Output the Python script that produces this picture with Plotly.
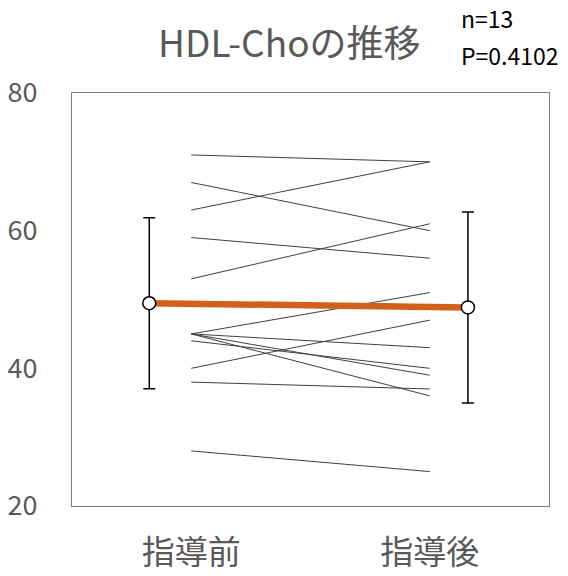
import numpy as np
import plotly.graph_objects as go

# HDL cholesterol per subject, before and after guidance
categories = ["指導前", "指導後"]
before = [71, 67, 63, 59, 53, 45, 45, 45, 45, 44, 40, 38, 28]
after = [70, 60, 70, 56, 61, 51, 43, 39, 36, 40, 47, 37, 25]
y_ticks = [20, 40, 60, 80]
title_text = "HDL-Choの推移"
note_lines = ["n=13", "P=0.4102"]

cat_x = [1, 2]
mean_x = [0.824, 2.16]  # mean markers sit just outside the subject lines

means = [float(np.mean(before)), float(np.mean(after))]
sds = [float(np.std(before, ddof=1)), float(np.std(after, ddof=1))]

FONT = "Noto Sans CJK JP"
GRAY = "#595959"

W, H = 568, 576
ML, MR, MT, MB = 72, 19, 93, 70
plot_w = W - ML - MR
plot_h = H - MT - MB


def px_x(px):
    return (px - ML) / plot_w


def px_y(py):
    return (H - MB - py) / plot_h


fig = go.Figure()

for b, a in zip(before, after):
    fig.add_trace(go.Scatter(
        x=cat_x, y=[b, a], mode="lines",
        line=dict(color="#404040", width=1),
        hoverinfo="skip", showlegend=False,
    ))

fig.add_trace(go.Scatter(
    x=mean_x, y=means, mode="lines",
    line=dict(color="#D2601A", width=6.5),
    showlegend=False,
))

fig.add_trace(go.Scatter(
    x=mean_x, y=means, mode="markers",
    marker=dict(size=13, color="white", line=dict(color="black", width=1.5)),
    error_y=dict(type="data", array=sds, visible=True,
                 color="black", thickness=1.5, width=6),
    showlegend=False,
))

fig.update_layout(
    width=W, height=H,
    margin=dict(l=ML, r=MR, t=MT, b=MB),
    paper_bgcolor="white", plot_bgcolor="white",
    font=dict(family=FONT, color=GRAY),
    xaxis=dict(
        range=[0.5, 2.5], tickmode="array", tickvals=cat_x, ticktext=categories,
        showgrid=False, zeroline=False, ticks="", automargin=False,
        showline=True, linecolor="#7f7f7f", linewidth=1, mirror=True,
        tickfont=dict(size=33, color=GRAY, family=FONT),
        ticklabelstandoff=17,
    ),
    yaxis=dict(
        range=[20, 80], tickmode="array", tickvals=y_ticks,
        showgrid=False, zeroline=False, ticks="", automargin=False,
        showline=True, linecolor="#7f7f7f", linewidth=1, mirror=True,
        tickfont=dict(size=27, color=GRAY, family=FONT),
        ticklabelstandoff=28,
    ),
    annotations=[
        dict(text=title_text, x=px_x(289), y=px_y(41), xref="paper", yref="paper",
             xanchor="center", yanchor="middle", showarrow=False,
             font=dict(size=37, color=GRAY, family=FONT)),
        dict(text=note_lines[0], x=px_x(459), y=px_y(18), xref="paper", yref="paper",
             xanchor="left", yanchor="middle", showarrow=False,
             font=dict(size=23, color="black", family=FONT)),
        dict(text=note_lines[1], x=px_x(459), y=px_y(55), xref="paper", yref="paper",
             xanchor="left", yanchor="middle", showarrow=False,
             font=dict(size=23, color="black", family=FONT)),
    ],
)

fig.write_html("out.html")
